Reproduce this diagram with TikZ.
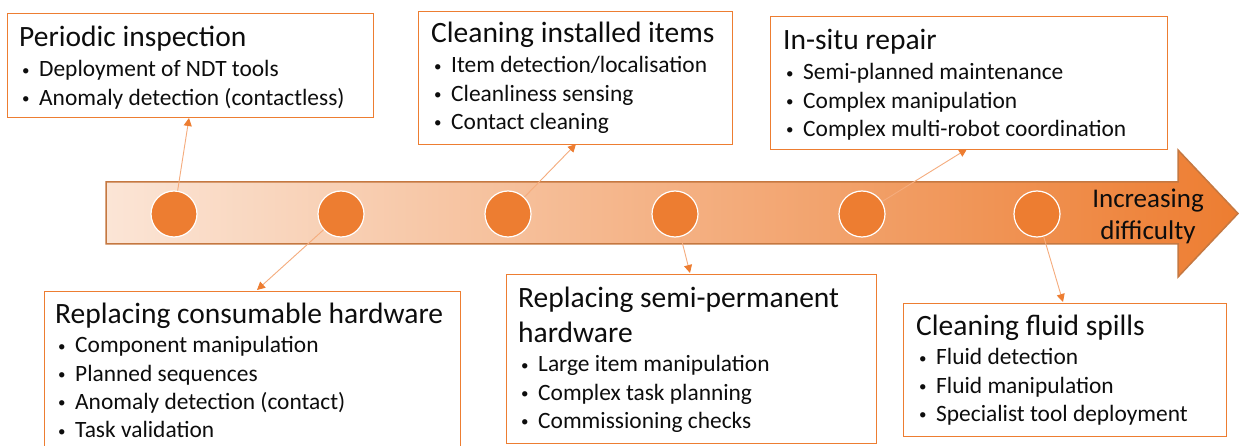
\documentclass[tikz,border=0pt]{standalone}
\usepackage{fontspec}
\setmainfont{Carlito}
\usetikzlibrary{arrows.meta,calc}
\definecolor{orng}{RGB}{237,125,49}
\definecolor{peach}{RGB}{251,229,214}
\definecolor{arrowedge}{RGB}{197,120,65}
\definecolor{linkc}{RGB}{245,172,125}
\definecolor{ink}{RGB}{13,13,13}
\newcommand{\ttl}[1]{{\fontsize{29.5}{35}\selectfont #1\par}\vspace{1.5pt}}
\newcommand{\bul}[1]{{\fontsize{23.4}{28.3}\selectfont\hspace*{3pt}\makebox[17pt][l]{\raisebox{1.6pt}{\fontsize{15}{15}\selectfont\textbullet}}#1\par}}
\tikzset{
  box/.style={draw=orng, line width=1.3pt, fill=white, inner sep=0pt, anchor=north west},
  txt/.style={inner sep=0pt, anchor=base west, text=ink},
  dot/.style={circle, fill=orng, draw=white, line width=1.2pt, minimum size=46pt, inner sep=0pt},
  link/.style={draw=linkc, line width=0.9pt, -{Triangle[length=8pt,width=8pt,color=orng,fill=orng]}}
}
\begin{document}
\begin{tikzpicture}[x=1pt,y=-1pt]
\clip (0,0) rectangle (1239,446);
\fill[white] (0,0) rectangle (1239,446);
% big arrow
\shade[left color=peach, right color=orng, draw=arrowedge, line width=1.5pt]
  (106,182) -- (1178,182) -- (1178,150) -- (1238,213.5) -- (1178,277) -- (1178,244) -- (106,244) -- cycle;
\node[inner sep=0pt, anchor=base, text=ink] (lab) at (1148,208)
  {\parbox[t]{150pt}{\centering\fontsize{27}{32}\selectfont Increasing\\difficulty}};
% circles
\node[dot] (c1) at (174,214) {};
\node[dot] (c2) at (341,214) {};
\node[dot] (c3) at (508,214) {};
\node[dot] (c4) at (675,214) {};
\node[dot] (c5) at (862,214) {};
\node[dot] (c6) at (1037,214) {};
% boxes
\node[box, minimum width=366pt, minimum height=104pt] (b1) at (7,13) {};
\node[box, minimum width=314pt, minimum height=133pt] (b2) at (418,11) {};
\node[box, minimum width=397pt, minimum height=133pt] (b3) at (770,16) {};
\node[box, minimum width=416pt, minimum height=180pt] (b4) at (44,291) {};
\node[box, minimum width=370pt, minimum height=169pt] (b5) at (506,274) {};
\node[box, minimum width=323pt, minimum height=133pt] (b6) at (903,303) {};
% texts
\node[txt] (t1) at (19,47) {\parbox[t]{350pt}{\ttl{Periodic inspection}\bul{Deployment of NDT tools}\bul{Anomaly detection (contactless)}}};
\node[txt] (t2) at (431,43) {\parbox[t]{300pt}{\ttl{Cleaning installed items}\bul{Item detection/localisation}\bul{Cleanliness sensing}\bul{Contact cleaning}}};
\node[txt] (t3) at (783,50) {\parbox[t]{380pt}{\ttl{In-situ repair}\bul{Semi-planned maintenance}\bul{Complex manipulation}\bul{Complex multi-robot coordination}}};
\node[txt] (t4) at (55,323) {\parbox[t]{400pt}{\ttl{Replacing consumable hardware}\bul{Component manipulation}\bul{Planned sequences}\bul{Anomaly detection (contact)}\bul{Task validation}}};
\node[txt] (t5) at (518,307) {\parbox[t]{360pt}{\ttl{Replacing semi-permanent\newline hardware}\bul{Large item manipulation}\bul{Complex task planning}\bul{Commissioning checks}}};
\node[txt] (t6) at (916,335) {\parbox[t]{310pt}{\ttl{Cleaning fluid spills}\bul{Fluid detection}\bul{Fluid manipulation}\bul{Specialist tool deployment}}};
% connector ends
\coordinate (p1) at (189,118);
\coordinate (p2) at (257,290);
\coordinate (p3) at (576,144);
\coordinate (p4) at (690,273);
\coordinate (p5) at (967,149);
\coordinate (p6) at (1063,302);
\draw[link] (c1) -- (p1);
\draw[link] (c2) -- (p2);
\draw[link] (c3) -- (p3);
\draw[link] (c4) -- (p4);
\draw[link] (c5) -- (p5);
\draw[link] (c6) -- (p6);
\end{tikzpicture}
\end{document}
